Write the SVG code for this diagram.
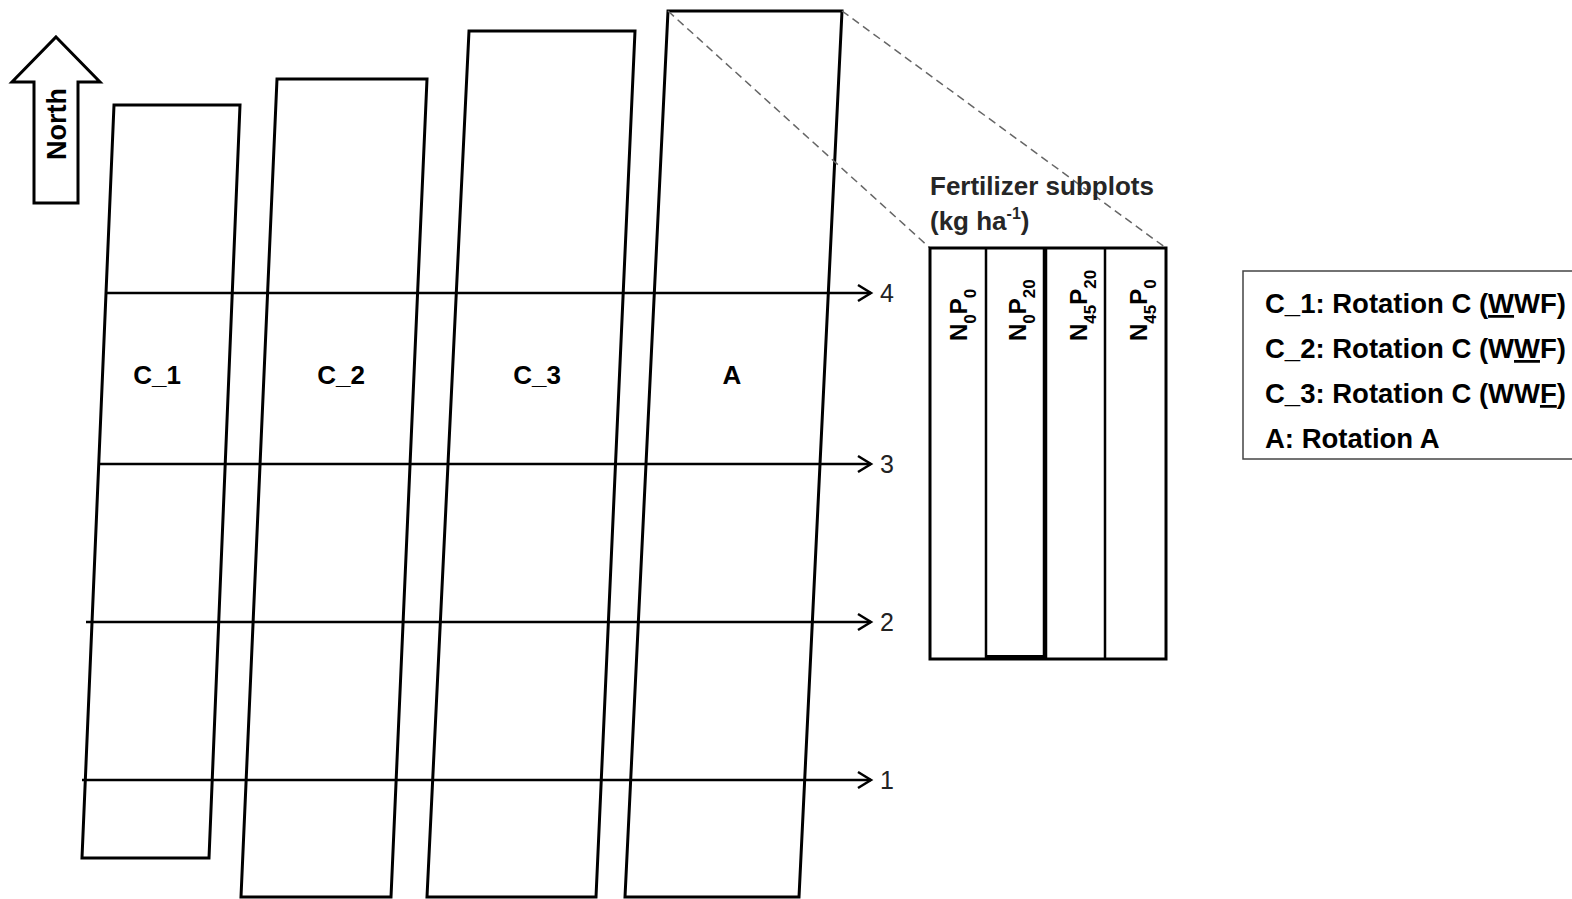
<svg xmlns="http://www.w3.org/2000/svg" width="1572" height="899" viewBox="0 0 1572 899">
<style>
.plot{fill:none;stroke:#000;stroke-width:3;stroke-linejoin:miter}
.row{fill:none;stroke:#000;stroke-width:2.5}
.dash{fill:none;stroke:#666;stroke-width:1.5;stroke-dasharray:8 5}
.b{font-family:"Liberation Sans",Arial,sans-serif;font-weight:bold;fill:#000}
.n{font-family:"Liberation Sans",Arial,sans-serif;font-size:25px;fill:#222}
.pl{font-size:26px;text-anchor:middle}
.fl{font-size:24px}
.sub{font-size:17px}
.leg{font-size:27.5px}
.ft{font-size:26px;fill:#262626}
</style>
<defs>
<marker id="ah" markerUnits="userSpaceOnUse" markerWidth="20" markerHeight="20" refX="16" refY="10" orient="auto" viewBox="0 0 20 20">
<path d="M3,2 L16,10 L3,18" fill="none" stroke="#000" stroke-width="2.5"/>
</marker>
</defs>
<rect width="1572" height="899" fill="#fff"/>

<g id="north">
<polygon class="plot" points="56,37 100,82 78,82 78,203 34,203 34,82 12,82"/>
<text class="b" font-size="27" text-anchor="middle" transform="translate(66,124) rotate(-90)">North</text>
</g>

<g id="plot-C1">
<polygon class="plot" points="114,105 240,105 209,858 82,858"/>
<text class="b pl" x="157" y="384">C_1</text>
</g>
<g id="plot-C2">
<polygon class="plot" points="277,79 427,79 391,897 241,897"/>
<text class="b pl" x="341" y="384">C_2</text>
</g>
<g id="plot-C3">
<polygon class="plot" points="469,31 635,31 596,897 427,897"/>
<text class="b pl" x="537" y="384">C_3</text>
</g>
<g id="plot-A">
<polygon class="plot" points="668,11 842,11 799,897 625,897"/>
<text class="b pl" x="732" y="384">A</text>
</g>

<g id="connectors">
<line class="row" x1="107" y1="293" x2="871" y2="293" marker-end="url(#ah)"/>
<line class="row" x1="99" y1="464" x2="871" y2="464" marker-end="url(#ah)"/>
<line class="row" x1="86" y1="622" x2="871" y2="622" marker-end="url(#ah)"/>
<line class="row" x1="82" y1="780" x2="871" y2="780" marker-end="url(#ah)"/>
<line class="dash" x1="668" y1="11" x2="930" y2="248"/>
<line class="dash" x1="842" y1="11" x2="1166" y2="248"/>
</g>

<g id="row-labels">
<text class="n" x="880" y="302">4</text>
<text class="n" x="880" y="473">3</text>
<text class="n" x="880" y="631">2</text>
<text class="n" x="880" y="789">1</text>
</g>

<g id="fertilizer">
<text class="b ft" x="930" y="195">Fertilizer subplots</text>
<text class="b ft" x="930" y="230">(kg ha<tspan font-size="16" dy="-11">-1</tspan><tspan dy="11">)</tspan></text>
<rect x="930" y="248" width="236" height="411" fill="none" stroke="#000" stroke-width="3"/>
<line x1="986" y1="248" x2="986" y2="659" stroke="#000" stroke-width="2.5"/>
<line x1="1045" y1="248" x2="1045" y2="659" stroke="#000" stroke-width="4.5"/>
<line x1="1105" y1="248" x2="1105" y2="659" stroke="#000" stroke-width="2.5"/>
<line x1="986" y1="657" x2="1045" y2="657" stroke="#000" stroke-width="4"/>
<text class="b fl" transform="translate(967,341) rotate(-90)">N<tspan class="sub" dy="9">0</tspan><tspan dy="-9">P</tspan><tspan class="sub" dy="9">0</tspan></text>
<text class="b fl" transform="translate(1026,341) rotate(-90)">N<tspan class="sub" dy="9">0</tspan><tspan dy="-9">P</tspan><tspan class="sub" dy="9">20</tspan></text>
<text class="b fl" transform="translate(1087,341) rotate(-90)">N<tspan class="sub" dy="9">45</tspan><tspan dy="-9">P</tspan><tspan class="sub" dy="9">20</tspan></text>
<text class="b fl" transform="translate(1147,341) rotate(-90)">N<tspan class="sub" dy="9">45</tspan><tspan dy="-9">P</tspan><tspan class="sub" dy="9">0</tspan></text>
</g>

<g id="legend">
<rect x="1243" y="271" width="340" height="188" fill="none" stroke="#444" stroke-width="1.5"/>
<text class="b leg" x="1265" y="313">C_1: Rotation C (<tspan text-decoration="underline">W</tspan>WF)</text>
<text class="b leg" x="1265" y="358">C_2: Rotation C (W<tspan text-decoration="underline">W</tspan>F)</text>
<text class="b leg" x="1265" y="403">C_3: Rotation C (WW<tspan text-decoration="underline">F</tspan>)</text>
<text class="b leg" x="1265" y="448">A: Rotation A</text>
</g>
</svg>
